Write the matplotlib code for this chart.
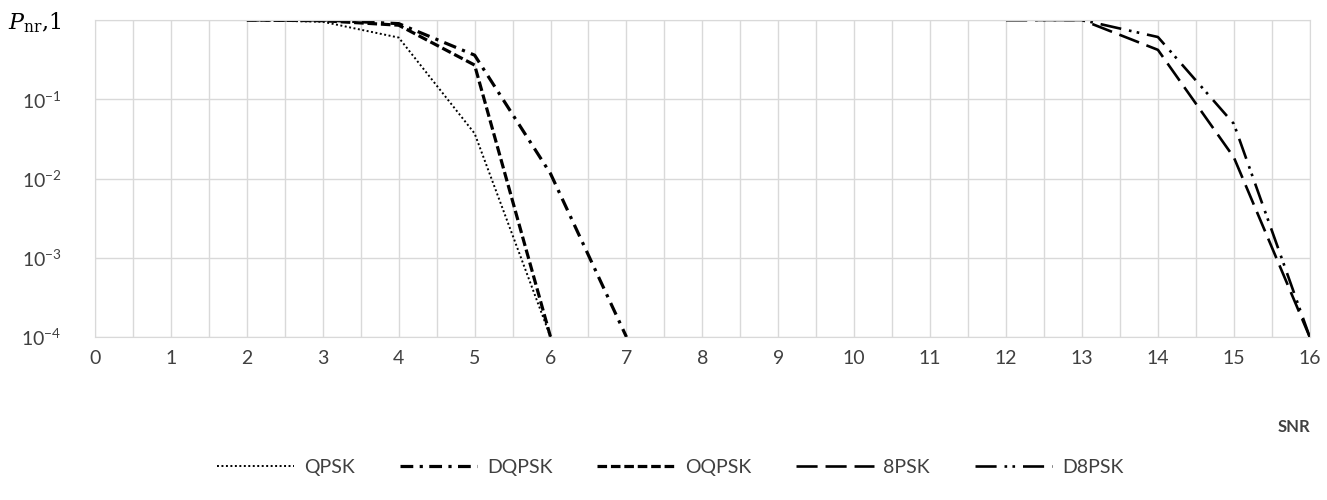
import matplotlib.pyplot as plt
from matplotlib.ticker import FixedLocator, MultipleLocator, NullLocator

# SNR values and error probabilities
snr_low = [2, 3, 4, 5, 6]
qpsk = [1.0, 0.95, 0.6, 0.037, 1e-4]
oqpsk = [1.0, 0.98, 0.86, 0.27, 1e-4]

snr_dq = [2, 3, 4, 5, 6, 7]
dqpsk = [1.0, 1.0, 0.9, 0.36, 0.0115, 1e-4]

snr_high = [12, 13, 14, 15, 16]
psk8 = [1.0, 1.0, 0.42, 0.0185, 1e-4]
d8psk = [1.0, 1.0, 0.61, 0.049, 1e-4]

ytick_vals = [1e-4, 1e-3, 1e-2, 1e-1, 1]
ytick_labels = ['10$^{-4}$', '10$^{-3}$', '10$^{-2}$', '10$^{-1}$',
                r'$P_{\mathsf{nr}}$,1']

plt.rcParams['font.family'] = ['Lato', 'DejaVu Sans']
plt.rcParams['mathtext.fontset'] = 'custom'
plt.rcParams['mathtext.rm'] = 'Lato'
plt.rcParams['mathtext.it'] = 'DejaVu Serif:italic'
plt.rcParams['mathtext.sf'] = 'DejaVu Serif'

fig = plt.figure(figsize=(13.27, 5), dpi=100)
ax = fig.add_axes([0.0716, 0.326, 0.9154, 0.634])

k = 'black'
ax.plot(snr_low, qpsk, color=k, lw=1.4, dashes=(1, 1.3), label='QPSK')
ax.plot(snr_dq, dqpsk, color=k, lw=2.3, dashes=(4, 2, 1, 2), label='DQPSK')
ax.plot(snr_low, oqpsk, color=k, lw=2.3, dashes=(3, 1.2), label='OQPSK')
ax.plot(snr_high, psk8, color=k, lw=1.9, dashes=(8, 3), label='8PSK')
ax.plot(snr_high, d8psk, color=k, lw=1.9, dashes=(8, 3, 1, 2, 1, 3), label='D8PSK')

ax.set_yscale('log')
ax.set_ylim(1e-4, 1)
ax.set_xlim(0, 16)
ax.yaxis.set_major_locator(FixedLocator(ytick_vals))
ax.yaxis.set_minor_locator(NullLocator())
ax.set_yticklabels(ytick_labels)
ax.xaxis.set_major_locator(MultipleLocator(1))
ax.xaxis.set_minor_locator(MultipleLocator(0.5))

grid_c = '#d9d9d9'
ax.grid(True, which='both', axis='x', color=grid_c, lw=1)
ax.grid(True, which='major', axis='y', color=grid_c, lw=1)
ax.set_axisbelow(True)
for s in ax.spines.values():
    s.set_color(grid_c)
ax.tick_params(which='both', length=0, labelsize=14, colors='#404040')
ax.tick_params(axis='x', pad=9)
ax.tick_params(axis='y', pad=24)
top = ax.get_yticklabels()[-1]
top.set_color('black')
top.set_fontsize(16)
top.set_fontfamily('DejaVu Serif')

fig.text(0.987, 0.145, 'SNR', ha='right', va='center', fontsize=12,
         fontweight='bold', color='#404040')

fig.legend(loc='center', bbox_to_anchor=(0.505, 0.065), ncol=5, frameon=False,
           fontsize=14, handlelength=4.0, columnspacing=2.3, handletextpad=0.5,
           labelcolor='#404040')

plt.savefig('out.png')
plt.close()
